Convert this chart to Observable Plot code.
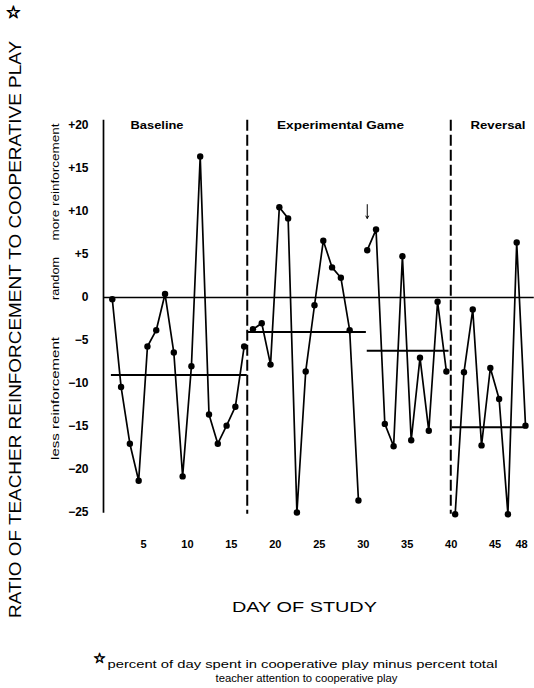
<!DOCTYPE html>
<html>
<head>
<meta charset="utf-8">
<script src="https://cdn.jsdelivr.net/npm/d3@7"></script>
<script src="https://cdn.jsdelivr.net/npm/@observablehq/plot@0.6"></script>
<style>
  html, body { margin: 0; padding: 0; background: #fff; }
  #chart svg { display: block; }
</style>
</head>
<body>
<div id="chart"></div>
<script>
// ---- data ----
const days = d3.range(1, 49);
const ratio = [
  -0.2, -10.4, -17.0, -21.3, -5.7, -3.8, 0.4, -6.4, -20.8, -8.0, 16.4, -13.6, -17.0, -14.9, -12.7, -5.7,
  -3.7, -3.0, -7.8, 10.5, 9.2, -25.0, -8.6, -0.9, 6.6, 3.5, 2.3, -3.8, -23.6,
  5.5, 7.9, -14.7, -17.3, 4.8, -16.6, -7.0, -15.5, -0.5, -8.6,
  -25.2, -8.7, -1.4, -17.2, -8.2, -11.8, -25.2, 6.4, -14.9
];
const segmentStarts = [1, 17, 30, 40];
const phaseBreaks = [16.35, 39.5];
const phaseNames = ["Baseline", "Experimental Game", "Reversal"];
const meanFrom = [0.9, 16.35, 30, 39.65];
const meanTo = [16.35, 29.9, 39.3, 48.2];
const meanValue = [-9.0, -4.0, -6.2, -15.1];
const arrowDay = 30, arrowFrom = 10.8, arrowTo = 9.2;
const xTicks = [5, 10, 15, 20, 25, 30, 35, 40, 45, 48];
const yTicks = [20, 15, 10, 5, 0, -5, -10, -15, -20, -25];
const yTickLabels = ["+20", "+15", "+10", "+5", "0", "\u22125", "\u221210", "\u221215", "\u221220", "\u221225"];
const yTitle = "RATIO OF TEACHER REINFORCEMENT TO COOPERATIVE PLAY";
const sideLabels = ["more reinforcement", "random", "less reinforcement"];
const xTitle = "DAY OF STUDY";
const star = "\u2606";
const captionLines = [
  "percent of day spent in cooperative play minus percent total",
  "teacher attention to cooperative play"
];

// ---- tables built from the arrays ----
const table = days.map((d, i) => ({day: d, value: ratio[i], seg: segmentStarts.filter(s => d >= s).length}));
const means = meanValue.map((v, i) => ({x1: meanFrom[i], x2: meanTo[i], y: v}));

const font = "'Liberation Sans', Arial, Helvetica, sans-serif";

const plot = Plot.plot({
  width: 534,
  height: 688,
  marginLeft: 103,
  marginRight: 9,
  marginTop: 125,
  marginBottom: 176,
  x: {domain: [0, 48]},
  y: {domain: [-25, 20]},
  style: {fontFamily: font, background: "#fff", color: "#000", overflow: "visible"},
  marks: [
    Plot.ruleX([0], {y1: 20.6, y2: -25.1, stroke: "#000", strokeWidth: 1.7}),
    Plot.ruleX(phaseBreaks, {y1: 20.6, y2: -25.2, stroke: "#000", strokeWidth: 2, strokeDasharray: "11,4"}),
    Plot.ruleY([0], {x1: 0, x2: 49, stroke: "#000", strokeWidth: 1.5}),
    Plot.ruleY(means, {x1: "x1", x2: "x2", y: "y", stroke: "#000", strokeWidth: 2}),
    Plot.line(table, {x: "day", y: "value", z: "seg", stroke: "#000", strokeWidth: 1.7}),
    Plot.dot(table, {x: "day", y: "value", r: 3.2, fill: "#000", stroke: "none"}),
    Plot.arrow([{x: arrowDay, y1: arrowFrom, y2: arrowTo}], {x1: "x", x2: "x", y1: "y1", y2: "y2", headLength: 4, strokeWidth: 1, stroke: "#000"}),
    Plot.axisY({ticks: yTicks, tickFormat: d => yTickLabels[yTicks.indexOf(d)], tickSize: 0, tickPadding: 15, fontSize: 12, fontWeight: "bold", label: null}),
    Plot.axisX({ticks: xTicks, tickSize: 0, tickPadding: 28, fontSize: 11, fontWeight: "bold", label: null, dx: -4}),
    // phase labels
    Plot.text(phaseNames, {x: (d, i) => [6.09, 26.96, 44.87][i], y: 20, text: d => d, fontSize: 10, fontWeight: "bold"}),
    // y title and star
    Plot.text([yTitle], {x: -10.0, y: -3.72, text: d => d, rotate: -90, fontSize: 16.5}),
    Plot.text([star], {x: -10.24, y: 33.1, text: d => d, fontSize: 17, fontFamily: "DejaVu Sans", fontWeight: "bold", fill: "#000", stroke: "#000", strokeWidth: 0.9}),
    // side labels
    Plot.text(sideLabels, {x: -5.46, y: (d, i) => [13.43, 2.21, -11.74][i], text: d => d, rotate: -90, fontSize: 10}),
    // x title
    Plot.text([xTitle], {x: 22.86, y: -36.05, text: d => d, fontSize: 15}),
    // caption
    Plot.text([star], {x: -0.45, y: -42.0, text: d => d, fontSize: 14, fontFamily: "DejaVu Sans", fontWeight: "bold", fill: "#000", stroke: "#000", strokeWidth: 0.8}),
    Plot.text(captionLines, {x: (d, i) => [22.63, 23.09][i], y: (d, i) => [-42.67, -44.3][i], text: d => d, fontSize: 10})
  ]
});

// stretch texts to the widths they occupy in the printed figure
const fitWidths = new Map([
  [yTitle, 577],
  [xTitle, 145],
  [captionLines[0], 390],
  [captionLines[1], 182],
  ["Experimental Game", 127],
  ["Baseline", 53],
  ["Reversal", 55],
  [sideLabels[0], 117],
  [sideLabels[1], 43],
  [sideLabels[2], 123]
]);
d3.select(plot).selectAll("text").each(function () {
  const w = fitWidths.get(this.textContent);
  if (w) {
    this.setAttribute("textLength", w);
    this.setAttribute("lengthAdjust", "spacingAndGlyphs");
  }
});

document.getElementById("chart").appendChild(plot);
</script>
</body>
</html>
